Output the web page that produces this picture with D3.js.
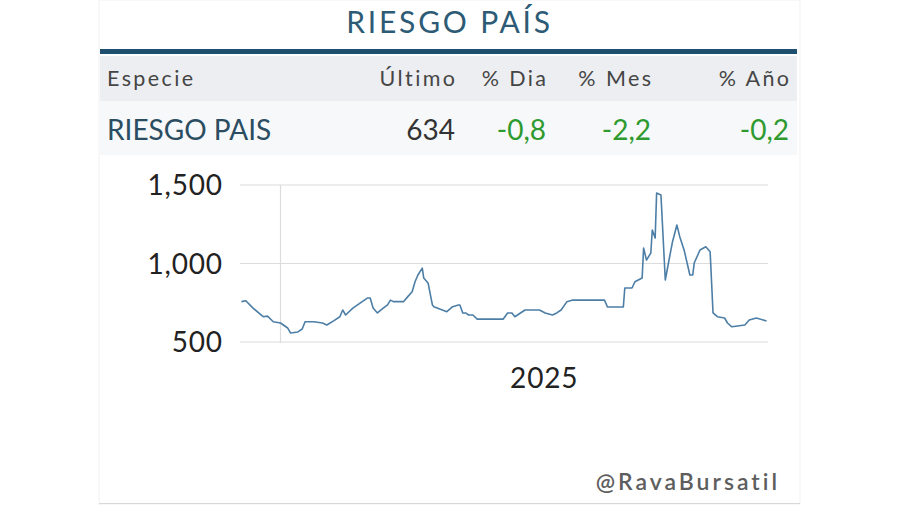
<!DOCTYPE html>
<html><head><meta charset="utf-8">
<script src="https://cdn.jsdelivr.net/npm/d3@7"></script>
<style>
html,body{margin:0;padding:0;background:#fff;}
svg{display:block;font-family:Lato,"Open Sans",sans-serif;}
</style></head>
<body>
<svg id="c" width="900" height="505"></svg>
<script>
const title = "RIESGO PAÍS";
const headers = ["Especie","Último","% Dia","% Mes","% Año"];
const rowValues = ["RIESGO PAIS","634","-0,8","-2,2","-0,2"];
const yTicks = [500, 1000, 1500];
const xTickLabels = ["2025"];
const dates = ["2024-12-05","2024-12-08","2024-12-13","2024-12-20","2024-12-23","2024-12-27","2025-01-01","2025-01-06","2025-01-08","2025-01-13","2025-01-16","2025-01-18","2025-01-24","2025-01-30","2025-02-02","2025-02-07","2025-02-11","2025-02-13","2025-02-15","2025-02-20","2025-02-25","2025-03-02","2025-03-04","2025-03-06","2025-03-09","2025-03-13","2025-03-16","2025-03-18","2025-03-20","2025-03-27","2025-03-30","2025-04-02","2025-04-04","2025-04-06","2025-04-09","2025-04-10","2025-04-13","2025-04-16","2025-04-17","2025-04-26","2025-04-30","2025-05-04","2025-05-05","2025-05-07","2025-05-09","2025-05-11","2025-05-14","2025-05-17","2025-06-04","2025-06-07","2025-06-10","2025-06-12","2025-06-19","2025-06-29","2025-07-03","2025-07-08","2025-07-11","2025-07-14","2025-07-18","2025-07-22","2025-08-13","2025-08-15","2025-08-26","2025-08-27","2025-09-01","2025-09-03","2025-09-08","2025-09-09","2025-09-11","2025-09-14","2025-09-15","2025-09-17","2025-09-18","2025-09-21","2025-09-24","2025-09-27","2025-09-29","2025-10-02","2025-10-04","2025-10-07","2025-10-11","2025-10-13","2025-10-14","2025-10-18","2025-10-22","2025-10-25","2025-10-27","2025-10-30","2025-11-04","2025-11-06","2025-11-09","2025-11-18","2025-11-21","2025-11-26","2025-12-03"];
const values = [757,763,716,661,665,629,621,589,557,564,583,629,629,621,608,636,661,704,672,716,748,780,780,716,685,716,736,767,757,757,789,820,884,927,971,908,876,736,725,693,725,736,736,685,685,672,672,646,646,685,685,661,704,704,685,672,685,704,757,767,767,723,723,844,844,884,908,1099,1022,1067,1213,1162,1449,1436,895,1043,1139,1245,1171,1086,927,927,1003,1086,1107,1075,685,661,653,621,597,608,640,653,634];

const svg = d3.select("#c");
// card edges
svg.append("rect").attr("x",99).attr("y",0).attr("width",701).attr("height",505).attr("fill","#fff").attr("stroke","#f1f1f1");
svg.append("line").attr("x1",99).attr("x2",800).attr("y1",503.5).attr("y2",503.5).attr("stroke","#d8d8d8");

// title
svg.append("text").attr("x",449.5).attr("y",33).attr("text-anchor","middle")
  .attr("font-size",30).attr("letter-spacing",2.8).attr("fill","#2d5b75").text(title);
svg.append("rect").attr("x",100).attr("y",49).attr("width",697).attr("height",5).attr("fill","#1f4f6e");

// table rows
svg.append("rect").attr("x",100).attr("y",56).attr("width",697).attr("height",45).attr("fill","#eceef1");
svg.append("rect").attr("x",100).attr("y",101).attr("width",697).attr("height",54).attr("fill","#f7f8fa");
const colX = [107,455,546,651,789];
const hls = 2.4;
headers.forEach((h,i)=>{
  svg.append("text").attr("x",i===0?colX[i]:colX[i]+hls).attr("y",86).attr("text-anchor",i===0?"start":"end")
    .attr("font-size",21.5).attr("fill","#454545").attr("letter-spacing",hls).text(h);
});
rowValues.forEach((v,i)=>{
  svg.append("text").attr("x",colX[i]).attr("y",140).attr("text-anchor",i===0?"start":"end")
    .attr("font-size",28)
    .attr("fill", i===0 ? "#2b4d61" : (i===1 ? "#333" : "#2f9a2f")).text(v);
});

// chart
const parse = d3.timeParse("%Y-%m-%d");
const data = dates.map((d,i)=>({date:parse(d), v:values[i]}));
const x = d3.scaleTime().domain([new Date(2024,11,4), new Date(2025,11,4)]).range([240,768]);
const y = d3.scaleLinear().domain([500,1500]).range([342,185]);

svg.append("g").selectAll("line").data(yTicks).join("line")
  .attr("x1",240).attr("x2",768).attr("y1",d=>y(d)).attr("y2",d=>y(d))
  .attr("stroke","#dcdcdc").attr("stroke-width",1.2);
svg.append("line").attr("x1",x(new Date(2025,0,1))).attr("x2",x(new Date(2025,0,1)))
  .attr("y1",y(1500)).attr("y2",y(500)+1).attr("stroke","#dcdcdc").attr("stroke-width",1.2);

const tls = 0.8;
svg.append("g").selectAll("text").data(yTicks).join("text")
  .attr("x",222+tls).attr("y",d=>y(d)+10).attr("text-anchor","end").attr("letter-spacing",tls)
  .attr("font-size",28).attr("fill","#222").text(d=>d3.format(",")(d));

svg.append("text").attr("x",x(new Date(2025,6,2))+tls/2).attr("y",388).attr("text-anchor","middle")
  .attr("letter-spacing",tls).attr("font-size",28).attr("fill","#222").text(xTickLabels[0]);

const line = d3.line().x(d=>x(d.date)).y(d=>y(d.v));
svg.append("path").datum(data).attr("d",line).attr("fill","none")
  .attr("stroke","#4d7ea6").attr("stroke-width",1.6).attr("stroke-linejoin","round");

svg.append("text").attr("x",777+3).attr("y",490).attr("text-anchor","end")
  .attr("font-size",23).attr("font-weight",600).attr("fill","#5e5e5e").attr("letter-spacing",3).text("@RavaBursatil");
</script>
</body></html>
